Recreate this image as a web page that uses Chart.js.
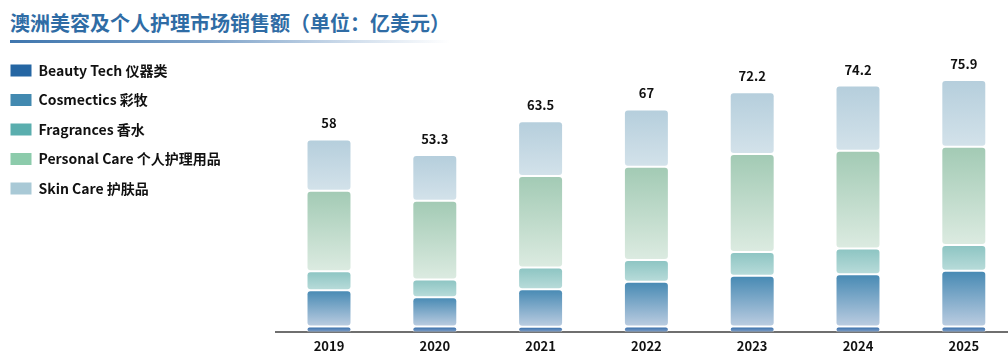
<!DOCTYPE html>
<html>
<head>
<meta charset="utf-8">
<script src="https://cdn.jsdelivr.net/npm/chart.js@4.4.1/dist/chart.umd.min.js"></script>
<style>
  html, body { margin: 0; padding: 0; background: #fff; overflow: hidden; width: 1008px; height: 364px; }
  #title {
    position: absolute; left: 10px; top: 9px;
    font-family: 'Noto Sans CJK SC', 'Noto Sans', sans-serif;
    font-weight: bold; font-size: 20px; color: #2f6ca5; white-space: nowrap; line-height: 28px;
  }
  #rule {
    position: absolute; left: 10px; top: 40px; width: 440px; height: 3px;
    background: linear-gradient(to right, #3f76ae 0%, #7fa3c9 45%, #d5e1ee 80%, rgba(255,255,255,0) 100%);
  }
  #wrap { position: absolute; left: -5.5px; top: 48px; width: 1030px; height: 316px; }
</style>
</head>
<body>
<div id="title">澳洲美容及个人护理市场销售额（单位：亿美元）</div>
<div id="rule"></div>
<div id="wrap"><canvas id="salesCht"></canvas></div>
<script>
// data (亿美元)
const years = ['2019', '2020', '2021', '2022', '2023', '2024', '2025'];
const beautyTech = [1.8, 1.8, 1.7, 1.8, 1.8, 1.8, 1.8];
const cosmetics = [10.9, 8.8, 11.3, 13.4, 15.2, 15.7, 16.7];
const fragrances = [5.7, 5.3, 6.5, 6.6, 7.2, 7.7, 7.8];
const personalCare = [24.2, 23.7, 27.5, 28.0, 29.4, 29.4, 29.5];
const skinCare = [15.4, 13.7, 16.5, 17.2, 18.6, 19.6, 20.1];
const totals = [58, 53.3, 63.5, 67, 72.2, 74.2, 75.9];
const seriesNames = ['Beauty Tech 仪器类', 'Cosmectics 彩牧', 'Fragrances 香水', 'Personal Care 个人护理用品', 'Skin Care 护肤品'];

const series = [beautyTech, cosmetics, fragrances, personalCare, skinCare];
const legendColors = ['#2566a3', '#4289b0', '#5aaeae', '#8ccbab', '#a9c9d6'];
const topColors = ['#2b66a5', '#4689b3', '#8cc4c2', '#a2cab4', '#b5cedc'];
const bottomColors = ['#8aa6cc', '#bccde1', '#b9dcda', '#dcebe1', '#d3e2ea'];
const FONT = "'Noto Sans CJK SC', 'Noto Sans', sans-serif";

// stacked segments as floating bars so every piece gets rounded corners
let running = years.map(() => 0);
const datasets = series.map(function(vals, s) {
    const pairs = vals.map(function(v, i) {
        const p = [running[i], running[i] + v];
        running[i] += v;
        return p;
    });
    return {
        label: seriesNames[s],
        data: pairs,
        backgroundColor: function(ctx) {
            const chart = ctx.chart;
            if (ctx.type !== 'data' || !chart.chartArea || !ctx.raw) return legendColors[s];
            const y = chart.scales.y;
            const top = y.getPixelForValue(ctx.raw[1]);
            const bot = y.getPixelForValue(ctx.raw[0]);
            if (!isFinite(top) || !isFinite(bot) || top === bot) return legendColors[s];
            const g = chart.ctx.createLinearGradient(0, top, 0, bot);
            g.addColorStop(0, topColors[s]);
            g.addColorStop(1, bottomColors[s]);
            return g;
        },
        borderColor: 'rgba(255,255,255,0.35)',
        borderWidth: 1,
        borderRadius: 4,
        borderSkipped: false,
        barPercentage: 0.85,
        categoryPercentage: 0.5
    };
});

const totalLabels = {
    id: 'totalLabels',
    afterDatasetsDraw(chart) {
        const ctx = chart.ctx;
        const x = chart.scales.x, y = chart.scales.y;
        ctx.save();
        ctx.font = 'bold 13px ' + FONT;
        ctx.fillStyle = '#111';
        ctx.textAlign = 'center';
        ctx.textBaseline = 'middle';
        totals.forEach(function(t, i) {
            ctx.fillText(String(t), x.getPixelForValue(i), y.getPixelForValue(t) - 16);
        });
        ctx.restore();
    }
};

var ctx = document.getElementById('salesCht');
var salesChart = new Chart(ctx, {
    type: 'bar',
    data: { labels: years, datasets: datasets },
    plugins: [totalLabels],
    options: {
        responsive: true,
        maintainAspectRatio: false,
        animation: false,
        layout: { padding: { top: 0, right: 8.3, bottom: 4, left: 0 } },
        plugins: {
            tooltip: { enabled: false },
            legend: {
                position: 'left',
                align: 'start',
                labels: {
                    boxWidth: 21,
                    boxHeight: 12,
                    padding: 15.5,
                    color: '#111',
                    font: { family: FONT, size: 14, weight: 'bold' },
                    generateLabels: function(chart) {
                        const items = Chart.defaults.plugins.legend.labels.generateLabels(chart);
                        items.forEach(function(it, k) {
                            it.fillStyle = legendColors[k];
                            it.strokeStyle = legendColors[k];
                            it.lineWidth = 0;
                        });
                        return items;
                    }
                }
            }
        },
        scales: {
            x: {
                grouped: false,
                offset: true,
                grid: { display: false, drawTicks: false },
                border: { display: true, color: '#6f6f6f', width: 2 },
                ticks: { color: '#111', padding: 6, font: { family: FONT, size: 13, weight: 'bold' } }
            },
            y: {
                min: 0,
                max: 85.5,
                grid: { display: false },
                border: { display: false },
                ticks: { display: false },
                afterFit: function(scale) {
                    scale.width = Math.max(0, 281.1 - scale.chart.legend.width);
                }
            }
        },
        datasets: { bar: { grouped: false } }
    }
});
</script>
</body>
</html>
